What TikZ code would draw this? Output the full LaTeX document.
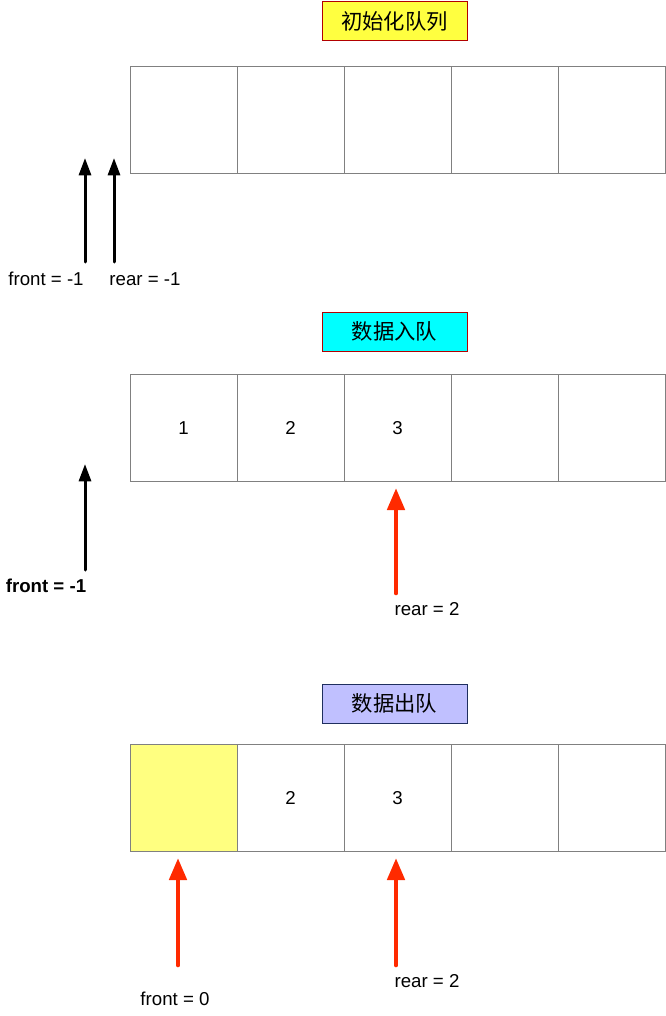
\documentclass[tikz,border=0pt]{standalone}
\usepackage{fontspec}
\setmainfont{Liberation Sans}
\newfontfamily\cjk{Noto Sans CJK SC}
\usetikzlibrary{arrows.meta}
\definecolor{ttlyellow}{HTML}{FFFF40}
\definecolor{ttlcyan}{HTML}{00FFFF}
\definecolor{ttllav}{HTML}{C0C0FF}
\definecolor{ttlred}{HTML}{B20000}
\definecolor{ttlnavy}{HTML}{1F2F5F}
\definecolor{cellyellow}{HTML}{FFFF80}
\definecolor{ptrred}{HTML}{FF2A00}
\tikzset{
  cell/.style={rectangle, draw=gray, minimum width=80.25pt, minimum height=80.25pt,
    inner sep=0pt, outer sep=0pt, text height=10pt, text depth=0pt,
    font=\fontsize{14}{16}\selectfont},
  titlebox/.style={rectangle, minimum width=108.75pt, minimum height=29.25pt,
    line width=0.75pt, font=\cjk\fontsize{16}{19}\selectfont},
  lbl/.style={inner sep=0pt, font=\fontsize{14}{16}\selectfont},
  ptr/.style={-{Triangle[width=9pt, length=13pt]}, line width=2.25pt, line cap=round},
  ptrr/.style={-{Triangle[width=12.75pt, length=16.5pt]}, line width=3.5pt, line cap=round, ptrred}
}

\begin{document}
\begin{tikzpicture}[x=0.75pt, y=-0.75pt]
  \useasboundingbox (0,0) rectangle (666,1016);

  \node[titlebox, fill=ttlyellow, draw=ttlred] (t1) at (394.5,21.5) {初始化队列};
  \foreach \i in {1,...,5}
    \node[cell] (a\i) at ({76.5+107*\i},119.5) {};
  \node[lbl] (fa) at (46,279) {front = -1};
  \node[lbl] (ra) at (145,279) {rear = -1};
  \coordinate (fa0) at (85,262);
  \coordinate (fa1) at (85,158);
  \coordinate (ra0) at (114,262);
  \coordinate (ra1) at (114,158);
  \draw[ptr] (fa0) -- (fa1);
  \draw[ptr] (ra0) -- (ra1);

  \node[titlebox, fill=ttlcyan, draw=ttlred] (t2) at (394.5,331.5) {数据入队};
  \foreach \v [count=\i] in {1,2,3,{},{}}
    \node[cell] (b\i) at ({76.5+107*\i},427.5) {\v};
  \node[lbl, font=\bfseries\fontsize{14}{16}\selectfont] (fb) at (46,586) {front = -1};
  \node[lbl] (rb) at (427,609) {rear = 2};
  \coordinate (fb0) at (85,570);
  \coordinate (fb1) at (85,464);
  \coordinate (rb0) at (396,593);
  \coordinate (rb1) at (396,488);
  \draw[ptr] (fb0) -- (fb1);
  \draw[ptrr] (rb0) -- (rb1);

  \node[titlebox, fill=ttllav, draw=ttlnavy] (t3) at (394.5,703.5) {数据出队};
  \node[cell, fill=cellyellow] (c1) at (183.5,797.5) {};
  \foreach \v [count=\i from 2] in {2,3,{},{}}
    \node[cell] (c\i) at ({76.5+107*\i},797.5) {\v};
  \node[lbl] (fc) at (175,999) {front = 0};
  \node[lbl] (rc) at (427,981) {rear = 2};
  \coordinate (fc0) at (178,965);
  \coordinate (fc1) at (178,858);
  \coordinate (rc0) at (396,965);
  \coordinate (rc1) at (396,858);
  \draw[ptrr] (fc0) -- (fc1);
  \draw[ptrr] (rc0) -- (rc1);
\end{tikzpicture}
\end{document}
